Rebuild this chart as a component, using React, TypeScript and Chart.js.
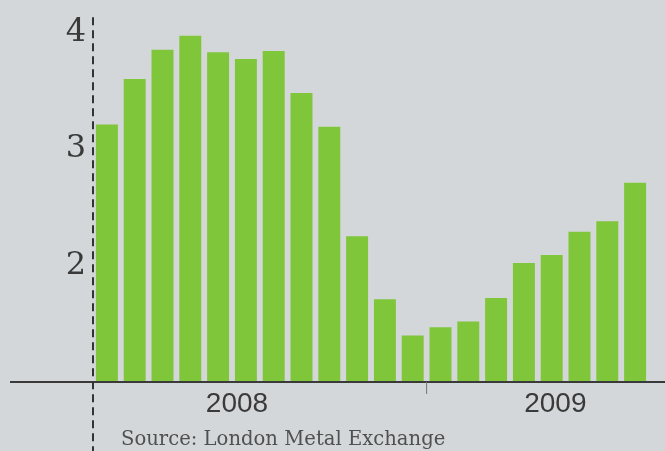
import React, { useEffect, useRef } from "react";
import { Chart, registerables } from "chart.js";

Chart.register(...registerables);

// ---- data ----
const months = [
  "Jan 2008", "Feb 2008", "Mar 2008", "Apr 2008", "May 2008", "Jun 2008",
  "Jul 2008", "Aug 2008", "Sep 2008", "Oct 2008", "Nov 2008", "Dec 2008",
  "Jan 2009", "Feb 2009", "Mar 2009", "Apr 2009", "May 2009", "Jun 2009",
  "Jul 2009", "Aug 2009",
];
const prices = [
  3.21, 3.6, 3.85, 3.97, 3.83, 3.77, 3.84, 3.48, 3.19, 2.25,
  1.71, 1.4, 1.47, 1.52, 1.72, 2.02, 2.09, 2.29, 2.38, 2.71,
];
const yTickValues = [2, 3, 4];
const yearLabels = ["2008", "2009"];
const yearLabelIndex = [4.68, 16.13]; // position along the month axis
const yearBoundaries = [-0.5, 11.5]; // start of 2008, start of 2009
const sourceText = "Source: London Metal Exchange";

const BG = "#d4d7da";
const BAR = "#80c63a";
const INK = "#3a3a3a";

const overlay = {
  id: "overlay",
  afterDraw(chart: any) {
    const { ctx, chartArea, scales } = chart;
    const x = scales.x;
    const y = scales.y;
    const base = chartArea.bottom;
    ctx.save();
    // baseline axis
    ctx.strokeStyle = INK;
    ctx.lineWidth = 2;
    ctx.beginPath();
    ctx.moveTo(10, base);
    ctx.lineTo(chart.width, base);
    ctx.stroke();
    // dashed line at the start of 2008
    const x0 = x.getPixelForValue(yearBoundaries[0]);
    ctx.setLineDash([8, 5]);
    ctx.lineWidth = 2;
    ctx.strokeStyle = "#333";
    ctx.beginPath();
    ctx.moveTo(x0, y.getPixelForValue(4) - 15);
    ctx.lineTo(x0, chart.height);
    ctx.stroke();
    ctx.setLineDash([]);
    // small tick at the year boundary
    const x1 = x.getPixelForValue(yearBoundaries[1]);
    ctx.strokeStyle = "#777";
    ctx.lineWidth = 1;
    ctx.beginPath();
    ctx.moveTo(x1, base);
    ctx.lineTo(x1, base + 12);
    ctx.stroke();
    // year labels
    ctx.fillStyle = INK;
    ctx.font = '28px "Liberation Sans", Arial, sans-serif';
    ctx.textAlign = "center";
    ctx.textBaseline = "middle";
    yearLabels.forEach((t, i) => {
      ctx.fillText(t, x.getPixelForValue(yearLabelIndex[i]), base + 22);
    });
    // source
    ctx.fillStyle = "#505050";
    ctx.font = '19.6px "DejaVu Serif", serif';
    ctx.textAlign = "left";
    ctx.textBaseline = "alphabetic";
    ctx.fillText(sourceText, 121, 445);
    ctx.restore();
  },
};

export default function App() {
  const ref = useRef<HTMLCanvasElement>(null);
  useEffect(() => {
    document.body.style.margin = "0";
    const chart = new Chart(ref.current!, {
      type: "bar",
      data: {
        labels: months,
        datasets: [
          {
            data: prices,
            backgroundColor: BAR,
            borderWidth: 0,
            categoryPercentage: 1,
            barPercentage: 0.79,
          },
        ],
      },
      options: {
        animation: false,
        responsive: true,
        maintainAspectRatio: false,
        layout: { padding: { left: 0, right: 16, top: 9, bottom: 69 } },
        plugins: { legend: { display: false }, tooltip: { enabled: false } },
        scales: {
          x: { display: false },
          y: {
            display: true,
            min: 1,
            max: 4.2,
            grid: { display: false, drawTicks: false },
            border: { display: false },
            afterBuildTicks: (s: any) => {
              s.ticks = yTickValues.map((v) => ({ value: v }));
            },
            ticks: {
              autoSkip: false,
              padding: 7,
              color: INK,
              font: { family: '"DejaVu Serif", serif', size: 32 },
              callback: (v: any) => String(v),
            },
            afterFit: (s: any) => {
              s.width = 93;
              s.paddingTop = 0;
              s.paddingBottom = 0;
            },
          },
        },
      },
      plugins: [overlay],
    });
    return () => chart.destroy();
  }, []);
  return (
    <div style={{ position: "absolute", left: 0, top: 0, width: 665, height: 451, background: BG }}>
      <canvas ref={ref} />
    </div>
  );
}
